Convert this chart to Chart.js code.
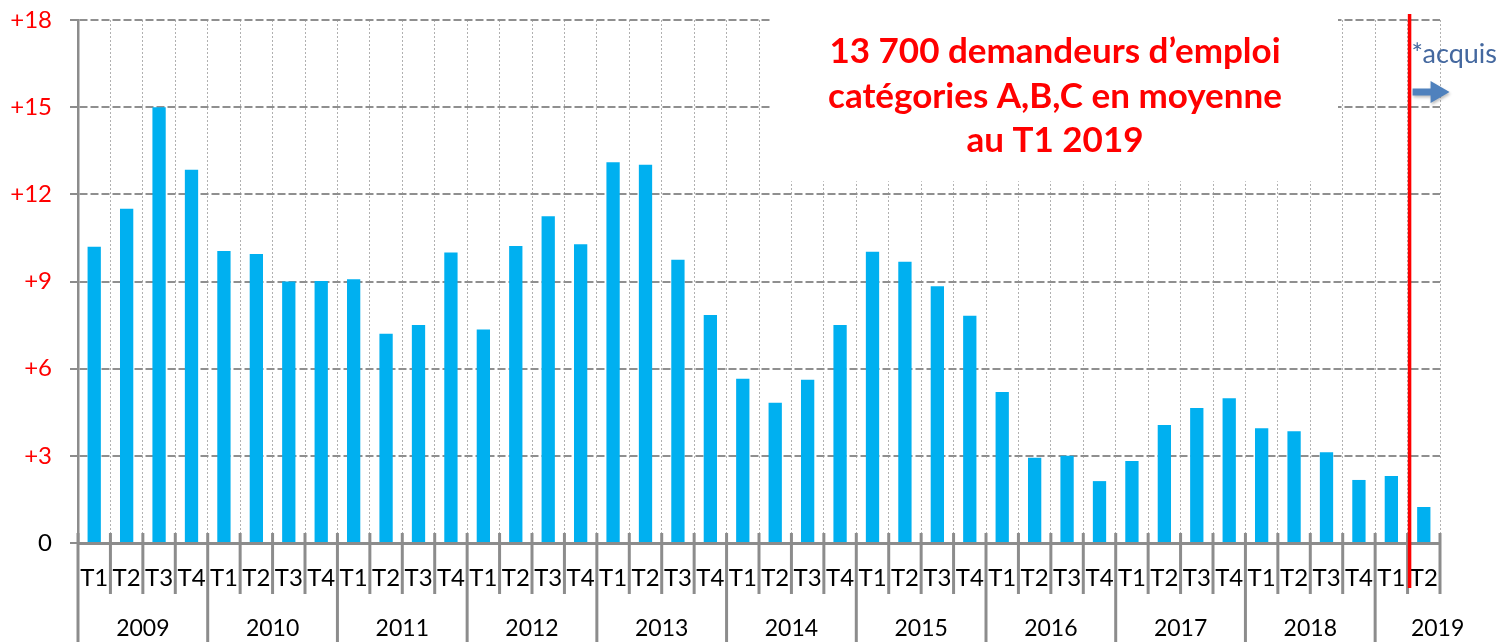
<!DOCTYPE html>
<html>
<head>
<meta charset="utf-8">
<script src="https://cdn.jsdelivr.net/npm/chart.js@4"></script>
<style>
  html, body { margin: 0; padding: 0; background: #fff; }
  #wrap { width: 1501px; height: 642px; position: relative; }
</style>
</head>
<body>
<div id="wrap"><canvas id="chart"></canvas></div>
<script>
// years and how many quarters each one has on the axis
const years = ["2009", "2010", "2011", "2012", "2013", "2014", "2015", "2016", "2017", "2018", "2019"];
const quartersPerYear = [4, 4, 4, 4, 4, 4, 4, 4, 4, 4, 2];

// variation, in thousands, one value per quarter
const values = [
  10.2, 11.5, 15.0, 12.85,   // 2009
  10.05, 9.95, 9.0, 9.02,    // 2010
  9.08, 7.2, 7.5, 10.0,      // 2011
  7.35, 10.22, 11.25, 10.28, // 2012
  13.1, 13.02, 9.75, 7.85,   // 2013
  5.65, 4.83, 5.62, 7.5,     // 2014
  10.02, 9.68, 8.84, 7.82,   // 2015
  5.2, 2.93, 3.0, 2.13,      // 2016
  2.82, 4.06, 4.65, 4.98,    // 2017
  3.95, 3.85, 3.12, 2.17,    // 2018
  2.31, 1.24                 // 2019
];

const yTicks = [0, 3, 6, 9, 12, 15, 18];
const titleLines = ["13 700 demandeurs d\u2019emploi", "cat\u00e9gories A,B,C en moyenne", "au T1 2019"];
const noteText = "*acquis";

const quarters = [];
quartersPerYear.forEach(n => { for (let q = 1; q <= n; q++) quarters.push("T" + q); });

const GRAY = "#8c8c8c";
const FONT = "Lato, 'Open Sans', sans-serif";

// two level axis, title box, red marker and the "acquis" arrow
const overlay = {
  id: "overlay",
  beforeDatasetsDraw(chart) {
    const { ctx } = chart;
    const y = chart.scales.y;
    // white text box hides the grid behind the title
    ctx.save();
    ctx.fillStyle = "#fff";
    ctx.fillRect(772, 0, 566, y.getPixelForValue(12.45));
    ctx.fillStyle = "#ff0000";
    ctx.font = "bold 35px " + FONT;
    ctx.textAlign = "center";
    ctx.textBaseline = "alphabetic";
    titleLines.forEach((t, i) => ctx.fillText(t, 1055, 63 + i * 44.5));
    ctx.restore();
  },
  afterDraw(chart) {
    const { ctx, chartArea } = chart;
    const x = chart.scales.x;
    const n = quarters.length;
    const step = (chartArea.right - chartArea.left) / n;
    const edge = i => chartArea.left + i * step;
    const axisY = chartArea.bottom;

    const yearStarts = [0];
    quartersPerYear.forEach(q => yearStarts.push(yearStarts[yearStarts.length - 1] + q));

    ctx.save();
    ctx.strokeStyle = GRAY;
    ctx.lineWidth = 3;
    for (let i = 0; i <= n; i++) {
      const isYear = yearStarts.includes(i) && i < n;
      ctx.beginPath();
      ctx.moveTo(edge(i), axisY - 10);
      ctx.lineTo(edge(i), isYear ? chart.height : axisY + 51);
      ctx.stroke();
    }

    ctx.fillStyle = "#000";
    ctx.font = "24px " + FONT;
    ctx.textAlign = "center";
    ctx.textBaseline = "middle";
    quarters.forEach((q, i) => ctx.fillText(q, x.getPixelForValue(i), axisY + 35));
    ctx.font = "23px " + FONT;
    years.forEach((yr, k) => {
      let c = (edge(yearStarts[k]) + edge(yearStarts[k + 1])) / 2;
      if (k === years.length - 1) c += 30; // last, partial year label sits right
      ctx.fillText(yr, c, axisY + 86);
    });

    // red separator before the last quarter
    const xr = edge(n - 1) + 2;
    ctx.strokeStyle = "#ff0000";
    ctx.lineWidth = 3.5;
    ctx.beginPath();
    ctx.moveTo(xr, 14);
    ctx.lineTo(xr, axisY + 45);
    ctx.stroke();

    // note and arrow
    ctx.fillStyle = "#44689f";
    ctx.font = "27px " + FONT;
    ctx.textAlign = "left";
    ctx.textBaseline = "alphabetic";
    ctx.fillText(noteText, xr + 2, 63);

    ctx.fillStyle = "#4f81bd";
    ctx.shadowColor = "rgba(0,0,0,0.25)";
    ctx.shadowBlur = 3;
    ctx.shadowOffsetX = 1;
    ctx.shadowOffsetY = 2;
    ctx.beginPath();
    ctx.moveTo(xr + 3, 88.5);
    ctx.lineTo(xr + 21, 88.5);
    ctx.lineTo(xr + 21, 81);
    ctx.lineTo(xr + 40, 92);
    ctx.lineTo(xr + 21, 103);
    ctx.lineTo(xr + 21, 95.5);
    ctx.lineTo(xr + 3, 95.5);
    ctx.closePath();
    ctx.fill();
    ctx.restore();
  }
};

new Chart(document.getElementById("chart"), {
  type: "bar",
  data: {
    labels: quarters,
    datasets: [{
      data: values,
      backgroundColor: "#00b0f0",
      borderWidth: 0,
      categoryPercentage: 1,
      barPercentage: 0.41
    }]
  },
  options: {
    responsive: true,
    maintainAspectRatio: false,
    animation: false,
    layout: { padding: { top: 20, right: 61, left: 0, bottom: 0 } },
    plugins: { legend: { display: false }, tooltip: { enabled: false } },
    scales: {
      x: {
        ticks: { display: false },
        grid: { color: "#b0b0b0", lineWidth: 1, drawTicks: false, offset: true },
        border: { color: GRAY, width: 3, dash: [2, 2] },
        afterFit: s => { s.height = 99; }
      },
      y: {
        min: 0,
        max: 18,
        afterBuildTicks: s => { s.ticks = yTicks.map(v => ({ value: v })); },
        ticks: {
          padding: 18,
          font: { family: FONT, size: 24 },
          color: c => c.tick.value === 0 ? "#000" : "#ff0000",
          callback: v => v === 0 ? "0" : "+" + v
        },
        grid: { color: "#8f8f8f", lineWidth: 2, tickLength: 8, tickColor: GRAY, tickBorderDash: [] },
        border: { color: GRAY, width: 2.5, dash: [8, 3] },
        afterFit: s => { s.width = 78; s.paddingTop = 0; s.paddingBottom = 0; }
      }
    }
  },
  plugins: [overlay]
});
</script>
</body>
</html>
